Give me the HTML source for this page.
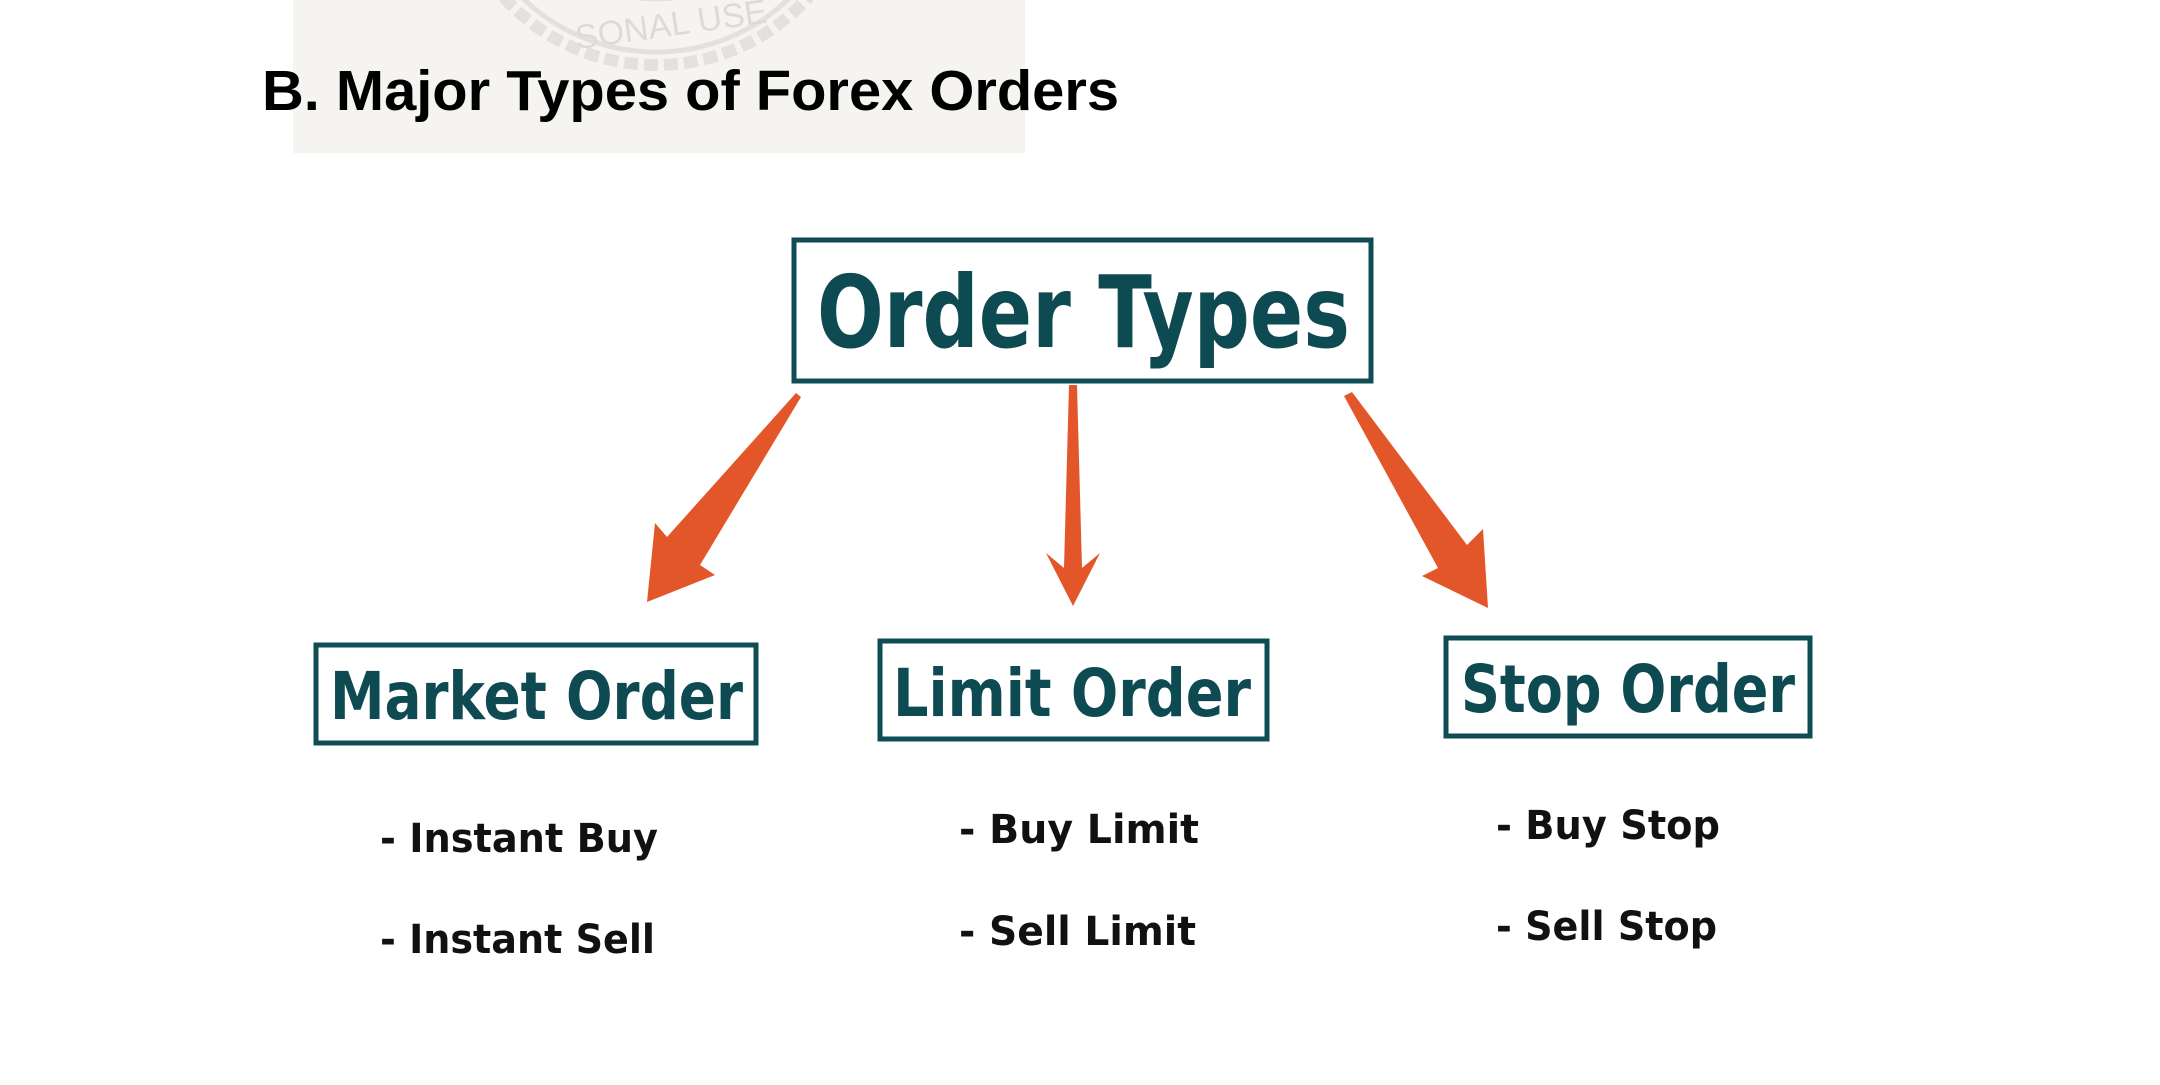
<!DOCTYPE html>
<html><head><meta charset="utf-8"><style>
html,body{margin:0;padding:0;background:#fff;}
body{width:2160px;height:1080px;overflow:hidden;}
</style></head><body>
<svg width="2160" height="1080" viewBox="0 0 2160 1080" xmlns="http://www.w3.org/2000/svg">
<rect x="293" y="0" width="732" height="153" fill="#f5f4f1"/>
<g fill="none" stroke="#e3e1dd">
<circle cx="656" cy="-140" r="205" stroke-width="12" stroke-dasharray="14 6"/>
<circle cx="656" cy="-140" r="192" stroke-width="5"/>
<circle cx="656" cy="-140" r="140" stroke-width="3"/>
</g>
<text x="575" y="38" font-family="Liberation Sans, sans-serif" font-size="34" fill="#dddbd7" transform="rotate(-8 656 30)">SONAL USE</text>
<text x="262" y="110" font-family="Liberation Sans, sans-serif" font-weight="bold" font-size="57" textLength="857" lengthAdjust="spacingAndGlyphs" fill="#000">B. Major Types of Forex Orders</text>

<g fill="#fff" stroke="#0f4c54" stroke-width="5">
<rect x="794" y="240" width="577" height="141"/>
<rect x="316" y="645" width="440" height="98"/>
<rect x="880" y="641" width="387" height="98"/>
<rect x="1446" y="638" width="364" height="98"/>
</g>
<g font-family="DejaVu Sans, sans-serif" font-weight="bold" fill="#0d4a52">
<text x="817" y="347" font-size="100" textLength="533" lengthAdjust="spacingAndGlyphs">Order Types</text>
<text x="330" y="719" font-size="66" textLength="413" lengthAdjust="spacingAndGlyphs">Market Order</text>
<text x="893" y="716" font-size="66" textLength="358" lengthAdjust="spacingAndGlyphs">Limit Order</text>
<text x="1461" y="712" font-size="66" textLength="334" lengthAdjust="spacingAndGlyphs">Stop Order</text>
</g>
<g font-family="DejaVu Sans, sans-serif" font-weight="bold" fill="#111" font-size="40">
<text x="380" y="852" textLength="278" lengthAdjust="spacingAndGlyphs">- Instant Buy</text>
<text x="380" y="953" textLength="275" lengthAdjust="spacingAndGlyphs">- Instant Sell</text>
<text x="959" y="843" textLength="240" lengthAdjust="spacingAndGlyphs">- Buy Limit</text>
<text x="959" y="945" textLength="237" lengthAdjust="spacingAndGlyphs">- Sell Limit</text>
<text x="1496" y="839" textLength="224" lengthAdjust="spacingAndGlyphs">- Buy Stop</text>
<text x="1496" y="940" textLength="221" lengthAdjust="spacingAndGlyphs">- Sell Stop</text>
</g>
<g fill="#e2562a">
<polygon points="796,393 801,397 700,565 715,575 647,602 655,523 667,537"/>
<polygon points="1069,385 1077,385 1082,568 1100,553 1073,606 1046,553 1064,568"/>
<polygon points="1344,396 1352,392 1467,545 1483,529 1488,608 1422,576 1438,568"/>
</g>
</svg>
</body></html>
